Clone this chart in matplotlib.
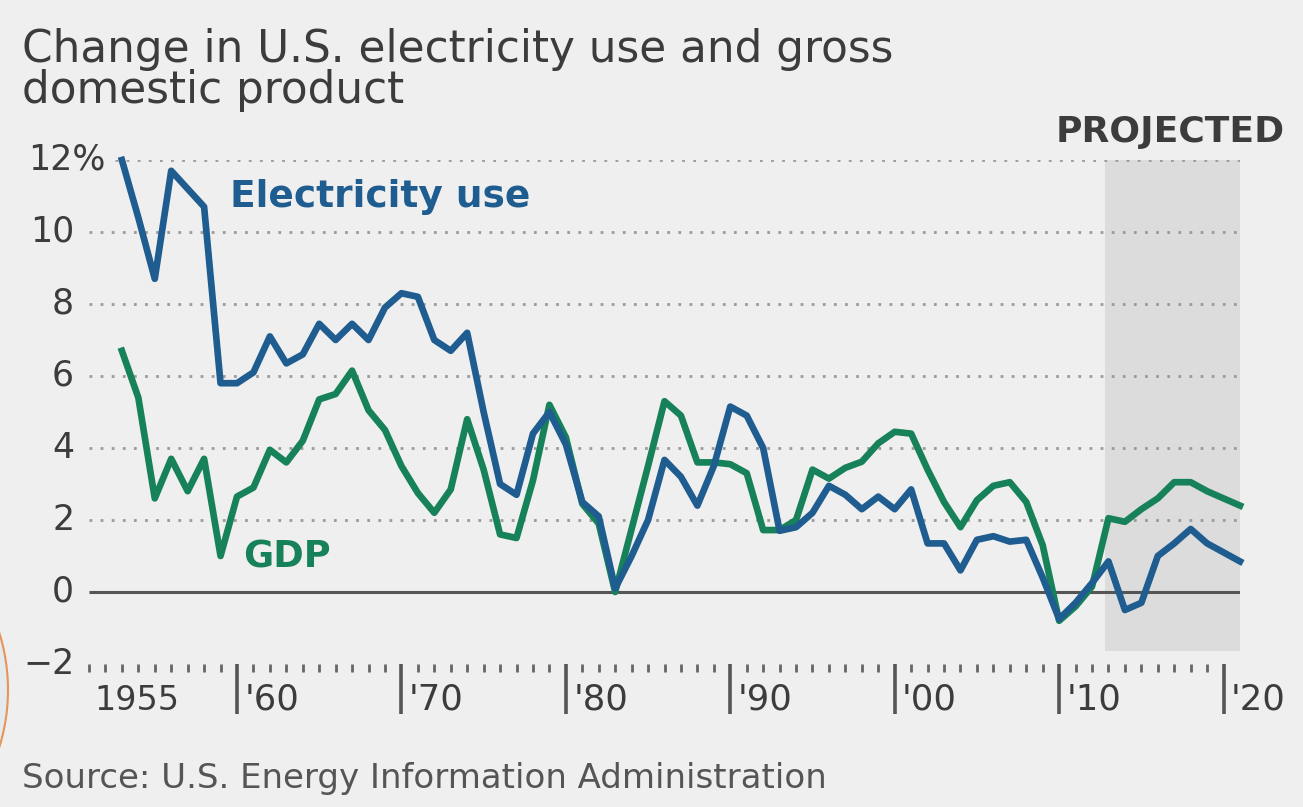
import matplotlib.pyplot as plt
from matplotlib.patches import Rectangle, Circle

# annual % change (last years are projections)
years = list(range(1953, 2022))
electricity = [12.0, 10.4, 8.7, 11.7, 11.2, 10.7, 5.8, 5.8, 6.1, 7.1,
               6.35, 6.6, 7.45, 7.0, 7.45, 7.0, 7.9, 8.3, 8.2, 7.0,
               6.7, 7.2, 5.0, 3.0, 2.7, 4.4, 5.0, 4.1, 2.5, 2.1,
               0.1, 1.0, 2.0, 3.67, 3.2, 2.4, 3.5, 5.15, 4.9, 4.0,
               1.7, 1.8, 2.2, 2.95, 2.7, 2.3, 2.65, 2.3, 2.85, 1.35,
               1.35, 0.6, 1.45, 1.55, 1.4, 1.45, 0.4, -0.75, -0.3, 0.25,
               0.85, -0.5, -0.3, 1.0, 1.35, 1.75, 1.35, 1.1, 0.85]
gdp = [6.7, 5.4, 2.6, 3.7, 2.8, 3.7, 1.0, 2.65, 2.9, 3.95,
       3.6, 4.2, 5.35, 5.5, 6.15, 5.05, 4.5, 3.5, 2.75, 2.2,
       2.85, 4.8, 3.4, 1.6, 1.5, 3.1, 5.2, 4.3, 2.45, 1.9,
       0.0, 1.75, 3.5, 5.3, 4.9, 3.6, 3.6, 3.55, 3.3, 1.72,
       1.72, 2.0, 3.4, 3.15, 3.45, 3.62, 4.13, 4.45, 4.4, 3.4,
       2.5, 1.8, 2.55, 2.95, 3.05, 2.5, 1.3, -0.8, -0.4, 0.15,
       2.05, 1.95, 2.3, 2.6, 3.05, 3.05, 2.8, 2.6, 2.4]

y_ticks = [-2, 0, 2, 4, 6, 8, 10, 12]
y_labels = ['\u22122', '0', '2', '4', '6', '8', '10', '12%']
decades = [1960, 1970, 1980, 1990, 2000, 2010, 2020]
decade_labels = ["'60", "'70", "'80", "'90", "'00", "'10", "'20"]
proj_start = 2012.8

BG = '#efefef'
BLUE = '#1f5c8f'
GREEN = '#17825a'
TXT = '#3c3c3c'

W, H = 1303, 807
plt.rcParams['font.family'] = ['DejaVu Sans']
fig = plt.figure(figsize=(W / 100, H / 100), dpi=100, facecolor=BG)

ax = fig.add_axes([89 / W, 1 - 664 / H, (1240 - 89) / W, (664 - 160) / H])
ax.set_facecolor('none')
ax.set_xlim(1951, 2021)
ax.set_ylim(-2, 12)
for s in ax.spines.values():
    s.set_visible(False)

# projected band
ax.add_patch(Rectangle((proj_start, -1.65), 2021 - proj_start, 13.75,
                       facecolor='#dcdcdc', edgecolor='none', zorder=0))

# dotted gridlines
for v in y_ticks[2:]:
    x0 = 1952.6 if v == 12 else 1951
    ax.hlines(v, x0, 2021, colors='#9a9a9a', linewidth=2, linestyles=(0, (1, 3)), zorder=1)
ax.hlines(0, 1951, 2021, colors='#555555', linewidth=2.2, zorder=1)

ax.plot(years, gdp, color=GREEN, linewidth=4.8, solid_joinstyle='round', clip_on=False, zorder=3)
ax.plot(years, electricity, color=BLUE, linewidth=4.8, solid_joinstyle='round', clip_on=False, zorder=4)

# x axis: small yearly ticks, tall decade ticks
ax.set_yticks([])
ax.set_xticks(decades)
ax.set_xticklabels([])
ax.set_xticks(range(1951, 2021), minor=True)
ax.tick_params(axis='x', which='major', length=36, width=2.6, color='#555555', direction='out')
ax.tick_params(axis='x', which='minor', length=6, width=2, color='#666666', direction='out')

for d, lab in zip(decades, decade_labels):
    ax.text(d + 0.45, -3.0, lab, ha='left', va='center', fontsize=25.5, color=TXT)
ax.text(1951.3, -3.0, '1955', ha='left', va='center', fontsize=24, color=TXT)

for v, lab in zip(y_ticks, y_labels):
    xx = 1952.0 if v == 12 else 1950.1
    ax.text(xx, v, lab, ha='right', va='center', fontsize=25, color=TXT)

ax.text(1959.6, 10.97, 'Electricity use', ha='left', va='center', fontsize=27,
        fontweight='bold', color=BLUE)
ax.text(1960.4, 0.97, 'GDP', ha='left', va='center', fontsize=26.5,
        fontweight='bold', color=GREEN)
ax.text(2023.75, 12.78, 'PROJECTED', ha='right', va='center', fontsize=26,
        fontweight='bold', color=TXT)

fig.text(22 / W, 1 - 62 / H, 'Change in U.S. electricity use and gross',
         ha='left', va='baseline', fontsize=31.5, color=TXT)
fig.text(22 / W, 1 - 103 / H, 'domestic product',
         ha='left', va='baseline', fontsize=31.5, color=TXT)
fig.text(22 / W, 1 - 788 / H, 'Source: U.S. Energy Information Administration',
         ha='left', va='baseline', fontsize=24.5, color='#555555')

# slide artifact on the left edge
fig.patches.append(Circle((-185, H - 690), 193, transform=None, facecolor='#e3ebef',
                          edgecolor='#e8935a', linewidth=1.5, zorder=0))

fig.savefig('out.png', dpi=100, facecolor=BG)
